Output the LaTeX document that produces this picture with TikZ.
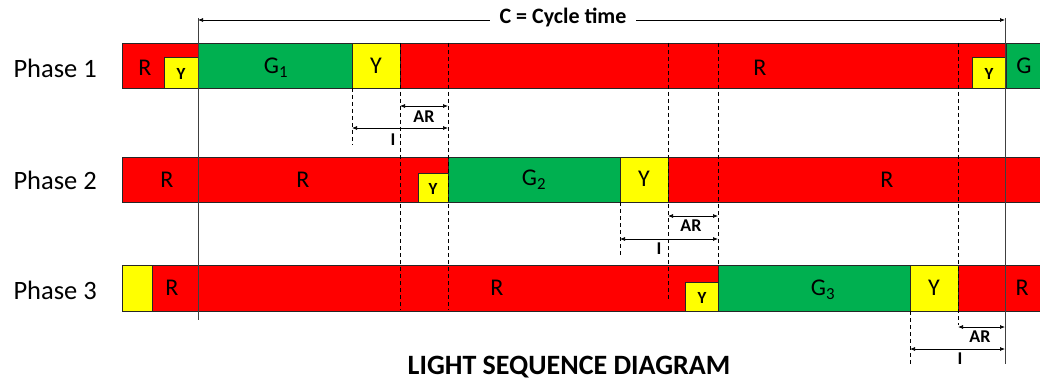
\documentclass[tikz,border=0pt]{standalone}
\usepackage{fontspec}
\setmainfont{Carlito}
\usetikzlibrary{arrows.meta}

\definecolor{lred}{HTML}{FF0000}
\definecolor{lgreen}{HTML}{00B050}
\definecolor{lyellow}{HTML}{FFFF00}

\tikzset{
  redseg/.style={fill=lred,draw=black!85,line width=0.6pt},
  greenseg/.style={fill=lgreen,draw=black!85,line width=0.6pt},
  yellowseg/.style={fill=lyellow,draw=black!85,line width=0.6pt},
  letter/.style={font=\fontsize{24}{26}\selectfont},
  smallY/.style={font=\bfseries\fontsize{17}{18}\selectfont},
  phaselabel/.style={anchor=west,font=\fontsize{26.5}{28}\selectfont},
  cycleline/.style={black!75,line width=0.8pt},
  dashline/.style={black,dashed,dash pattern=on 4pt off 3pt,line width=0.6pt},
  dimarrow/.style={{Latex[length=5pt,width=4pt]}-{Latex[length=5pt,width=4pt]},line width=0.7pt},
  dimlabel/.style={font=\bfseries\fontsize{18}{19}\selectfont,inner sep=1pt},
}

\begin{document}
\begin{tikzpicture}[x=1pt,y=-1pt]
\useasboundingbox (0,0) rectangle (1040,382);

% phase names
\path (10,68) node[phaselabel](ph1){Phase 1};
\path (10,180) node[phaselabel](ph2){Phase 2};
\path (10,290) node[phaselabel](ph3){Phase 3};

% phase 1
\draw[redseg] (122,43) rectangle (198,88);
\draw[greenseg] (198,43) rectangle (352,88);
\draw[yellowseg] (352,43) rectangle (400,88);
\draw[redseg] (400,43) rectangle (1006,88);
\draw[greenseg] (1006,43) rectangle (1040,88);
\draw[yellowseg] (164,57) rectangle (198,88);
\draw[yellowseg] (972,57) rectangle (1006,88);

% phase 2
\draw[redseg] (122,157) rectangle (198,202);
\draw[redseg] (198,157) rectangle (448,202);
\draw[greenseg] (448,157) rectangle (620,202);
\draw[yellowseg] (620,157) rectangle (668,202);
\draw[redseg] (668,157) rectangle (1040,202);
\draw[yellowseg] (418,173) rectangle (448,202);

% phase 3
\draw[yellowseg] (122,265) rectangle (152,311);
\draw[redseg] (152,265) rectangle (198,311);
\draw[redseg] (198,265) rectangle (718,311);
\draw[greenseg] (718,265) rectangle (910,311);
\draw[yellowseg] (910,265) rectangle (958,311);
\draw[redseg] (958,265) rectangle (1040,311);
\draw[yellowseg] (685,282) rectangle (718,311);

% cycle marks
\coordinate (cs) at (198,20);
\coordinate (ce) at (1005,20);
\draw[cycleline] (198,18) -- (198,320);
\draw[cycleline] (1005,18) -- (1005,364);
\draw[dimarrow] (cs) -- (ce);
\path (563,17) node[fill=white,inner xsep=10pt,font=\bfseries\fontsize{22}{24}\selectfont](ctime){C = Cycle time};

% dashed marks
\draw[dashline] (352,88) -- (352,145);
\draw[dashline] (400,43) -- (400,310);
\draw[dashline] (448,43) -- (448,310);
\draw[dashline] (668,43) -- (668,300);
\draw[dashline] (718,43) -- (718,265);
\draw[dashline] (958,43) -- (958,325);
\draw[dashline] (620,202) -- (620,257);
\draw[dashline] (910,311) -- (910,364);

% letters
\path (145,68) node[letter](l11){R};
\path (181,74) node[smallY](l12){Y};
\path (276,68) node[letter](l13){G\textsubscript{1}};
\path (376,66) node[letter](l14){Y};
\path (760,68) node[letter](l15){R};
\path (989,74) node[smallY](l16){Y};
\path (1024,66) node[letter](l17){G};

\path (167,180) node[letter](l21){R};
\path (303,180) node[letter](l22){R};
\path (433,189) node[smallY](l23){Y};
\path (534,180) node[letter](l24){G\textsubscript{2}};
\path (644,179) node[letter](l25){Y};
\path (887,180) node[letter](l26){R};

\path (172,288) node[letter](l31){R};
\path (497,288) node[letter](l32){R};
\path (702,298) node[smallY](l33){Y};
\path (823,290) node[letter](l34){G\textsubscript{3}};
\path (934,288) node[letter](l35){Y};
\path (1022,288) node[letter](l36){R};

% AR and I
\coordinate (ar1a) at (400,106); \coordinate (ar1b) at (448,106);
\coordinate (i1a) at (352,128);  \coordinate (i1b) at (448,128);
\draw[dimarrow] (ar1a) -- (ar1b);
\draw[dimarrow] (i1a) -- (i1b);
\path (424,117) node[dimlabel](ar1){AR};
\path (393,140) node[dimlabel](i1){I};

\coordinate (ar2a) at (668,216); \coordinate (ar2b) at (718,216);
\coordinate (i2a) at (620,239);  \coordinate (i2b) at (718,239);
\draw[dimarrow] (ar2a) -- (ar2b);
\draw[dimarrow] (i2a) -- (i2b);
\path (691,226) node[dimlabel](ar2){AR};
\path (659,249) node[dimlabel](i2){I};

\coordinate (ar3a) at (958,327); \coordinate (ar3b) at (1005,327);
\coordinate (i3a) at (910,349);  \coordinate (i3b) at (1005,349);
\draw[dimarrow] (ar3a) -- (ar3b);
\draw[dimarrow] (i3a) -- (i3b);
\path (980,337) node[dimlabel](ar3){AR};
\path (960,359) node[dimlabel](i3){I};

% title
\path (569,367) node[font=\bfseries\fontsize{28}{30}\selectfont](title){LIGHT SEQUENCE DIAGRAM};

\end{tikzpicture}
\end{document}
